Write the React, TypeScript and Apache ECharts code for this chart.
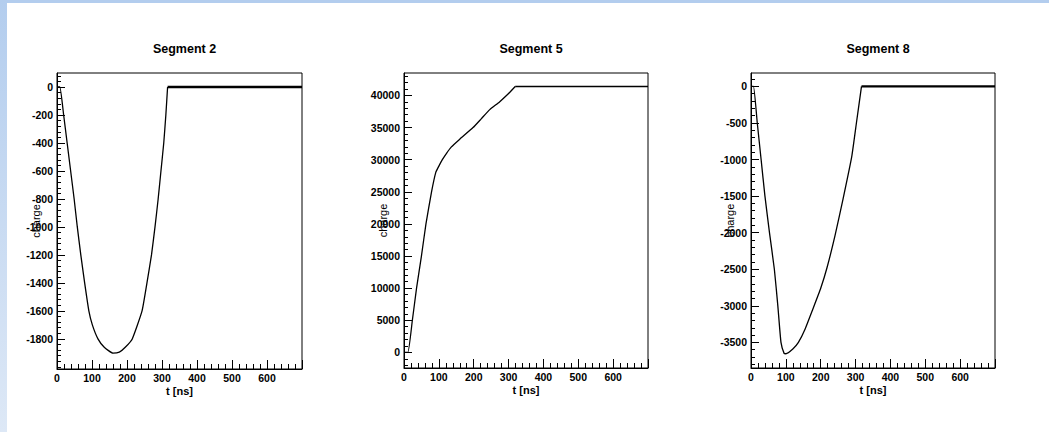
import React, { useEffect, useRef } from "react";
import * as echarts from "echarts";

// ---- data ----
const panelTitles = ["Segment 2", "Segment 5", "Segment 8"];

const seg2Times = [0, 8, 19, 29, 39, 49, 58, 68, 79, 91, 101, 117, 135, 160, 178, 195, 215, 243, 257, 270, 280, 289, 297, 305, 311, 316];
const seg2Charge = [0, 0, -200, -400, -600, -800, -1000, -1200, -1400, -1600, -1700, -1800, -1860, -1902, -1895, -1860, -1800, -1600, -1400, -1200, -1000, -800, -600, -400, -200, 0];
const seg2TailTimes = [316, 700];
const seg2TailCharge = [0, 0];

const seg5Times = [0, 11, 24, 36, 50, 63, 79, 91, 100, 110, 122, 136, 160, 198, 222, 246, 274, 300, 319];
const seg5Charge = [0, 0, 5000, 10000, 15000, 20000, 25000, 28000, 29000, 30000, 31000, 32000, 33200, 35000, 36400, 37800, 39000, 40300, 41400];
const seg5TailTimes = [319, 700];
const seg5TailCharge = [41400, 41400];

const seg8Times = [0, 7, 18, 29, 40, 53, 67, 77, 86, 95, 100, 120, 136, 155, 177, 200, 218, 241, 264, 289, 303, 317];
const seg8Charge = [0, 0, -500, -1000, -1500, -2000, -2500, -3000, -3500, -3650, -3655, -3590, -3500, -3320, -3050, -2760, -2480, -2040, -1540, -960, -480, 0];
const seg8TailTimes = [317, 700];
const seg8TailCharge = [0, 0];

const xMajorTicks = [0, 100, 200, 300, 400, 500, 600];
const seg2YTicks = [0, -200, -400, -600, -800, -1000, -1200, -1400, -1600, -1800];
const seg5YTicks = [0, 5000, 10000, 15000, 20000, 25000, 30000, 35000, 40000];
const seg8YTicks = [0, -500, -1000, -1500, -2000, -2500, -3000, -3500];

// axis extents of the frames
const yRanges = [
  [-2015, 100],
  [-2430, 43500],
  [-3850, 183],
];
const yMinorSteps = [40, 1000, 100];

function minorTicks(lo: number, hi: number, step: number) {
  const out: number[] = [];
  const start = Math.ceil(lo / step) * step;
  for (let v = start; v <= hi; v += step) out.push(v);
  return out;
}

const FONT = "Liberation Sans, Arial, Helvetica, sans-serif";

export default function App() {
  const ref = useRef<HTMLDivElement>(null);

  useEffect(() => {
    document.body.style.margin = "0";
    if (!ref.current) return;
    const chart = echarts.init(ref.current, undefined, { renderer: "svg" });

    const grids = [
      { left: 57, top: 73, width: 245, height: 296 },
      { left: 404, top: 73, width: 244, height: 295 },
      { left: 751, top: 73, width: 244, height: 295 },
    ];
    const yMajor = [seg2YTicks, seg5YTicks, seg8YTicks];
    const mainData = [
      [seg2Times, seg2Charge],
      [seg5Times, seg5Charge],
      [seg8Times, seg8Charge],
    ];
    const tailData = [
      [seg2TailTimes, seg2TailCharge, 2.4],
      [seg5TailTimes, seg5TailCharge, 1.3],
      [seg8TailTimes, seg8TailCharge, 2.4],
    ];

    const xAxes: any[] = [];
    const yAxes: any[] = [];
    const series: any[] = [];
    const titles: any[] = [];

    grids.forEach((g, i) => {
      titles.push({
        text: panelTitles[i],
        left: g.left + g.width / 2,
        textAlign: "center",
        top: 37,
        textStyle: { fontFamily: FONT, fontSize: 12.5, fontWeight: "bold", color: "#000" },
      });
      xAxes.push({
        type: "value",
        gridIndex: i,
        min: 0,
        max: 700,
        interval: 100,
        name: "t [ns]",
        nameLocation: "middle",
        nameGap: 16,
        nameMoveOverlap: false,
        nameTextStyle: { fontFamily: FONT, fontSize: 11, fontWeight: "bold", color: "#000" },
        axisLine: { show: true, onZero: false, lineStyle: { color: "#000", width: 1 } },
        axisTick: { show: true, inside: true, length: 9, lineStyle: { color: "#000", width: 1 } },
        minorTick: { show: true, splitNumber: 5, length: 5, lineStyle: { color: "#000", width: 1 } },
        axisLabel: {
          margin: 3,
          fontFamily: FONT,
          fontSize: 10.5,
          fontWeight: "bold",
          color: "#000",
          showMaxLabel: false,
          formatter: (v: number) => (xMajorTicks.indexOf(v) >= 0 ? String(v) : ""),
        },
        splitLine: { show: false },
        minorSplitLine: { show: false },
      });
      const [lo, hi] = yRanges[i];
      yAxes.push({
        type: "value",
        gridIndex: i,
        min: lo,
        max: hi,
        name: "charge",
        nameLocation: "middle",
        nameGap: 16,
        nameMoveOverlap: false,
        nameTextStyle: { fontFamily: FONT, fontSize: 11, color: "#000" },
        axisLine: { show: true, onZero: false, lineStyle: { color: "#000", width: 1 } },
        axisTick: {
          show: true,
          inside: true,
          length: 8,
          customValues: yMajor[i],
          lineStyle: { color: "#000", width: 1 },
        },
        axisLabel: {
          margin: 4,
          fontFamily: FONT,
          fontSize: 10.5,
          fontWeight: "bold",
          color: "#000",
          customValues: yMajor[i],
          formatter: (v: number) => String(v),
        },
        splitLine: { show: false },
      });
      yAxes.push({
        type: "value",
        gridIndex: i,
        min: lo,
        max: hi,
        position: "left",
        axisLine: { show: false, onZero: false },
        axisTick: {
          show: true,
          inside: true,
          length: 4,
          customValues: minorTicks(lo, hi, yMinorSteps[i]),
          lineStyle: { color: "#000", width: 1 },
        },
        axisLabel: { show: false },
        splitLine: { show: false },
      });
      const [ts, vs] = mainData[i];
      series.push({
        type: "line",
        xAxisIndex: i,
        yAxisIndex: 2 * i,
        showSymbol: false,
        symbol: "none",
        smooth: 0.15,
        lineStyle: { color: "#000", width: 1.3 },
        data: ts.map((t, k) => [t, vs[k]]),
      });
      const [tt, tv, w] = tailData[i] as [number[], number[], number];
      series.push({
        type: "line",
        xAxisIndex: i,
        yAxisIndex: 2 * i,
        showSymbol: false,
        symbol: "none",
        lineStyle: { color: "#000", width: w },
        data: tt.map((t, k) => [t, tv[k]]),
      });
    });

    chart.setOption({
      animation: false,
      backgroundColor: "#ffffff",
      title: titles,
      grid: grids.map((g) => ({ ...g, show: true, borderColor: "#000", borderWidth: 1, backgroundColor: "transparent" })),
      xAxis: xAxes,
      yAxis: yAxes,
      series,
      graphic: [
        {
          type: "rect",
          left: 0,
          top: 0,
          shape: { width: 1049, height: 3 },
          style: { fill: "#b3cdee" },
          silent: true,
        },
        {
          type: "rect",
          left: 0,
          top: 0,
          shape: { width: 7, height: 432 },
          style: {
            fill: new echarts.graphic.LinearGradient(0, 0, 0, 1, [
              { offset: 0, color: "#b3cdee" },
              { offset: 1, color: "#dde8f6" },
            ]),
          },
          silent: true,
        },
      ],
    });

    return () => {
      chart.dispose();
    };
  }, []);

  return <div ref={ref} style={{ width: 1049, height: 432 }} />;
}
